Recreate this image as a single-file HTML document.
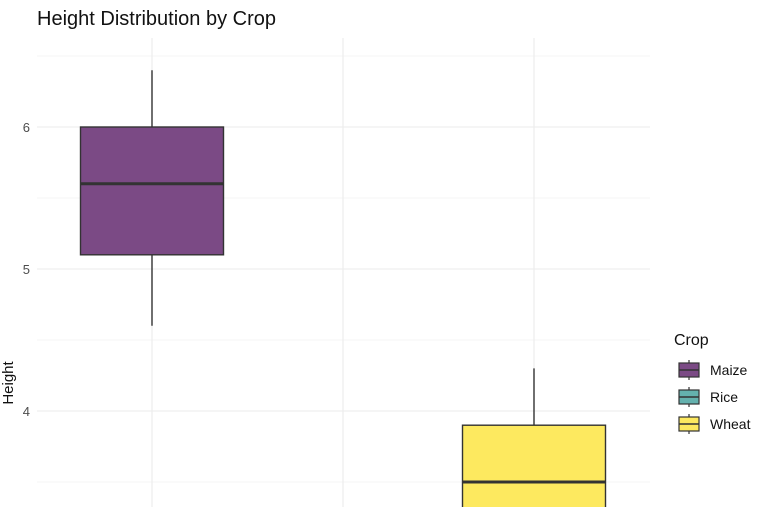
<!DOCTYPE html>
<html><head><meta charset="utf-8"><style>
html,body{margin:0;background:#fff;overflow:hidden;width:780px;height:507px;}
svg{display:block;font-family:"Liberation Sans",sans-serif;}
</style></head><body>
<svg id="chart" width="780" height="507">
<text x="37" y="25" font-size="20" fill="#111">Height Distribution by Crop</text>
<g id="grid"></g>
<g id="boxes"></g>
<text transform="translate(13,383) rotate(-90)" text-anchor="middle" font-size="15" fill="#111">Height</text>
<g id="legend"></g>
</svg>
<script>
const categories=["Maize","Rice","Wheat"];
const lowWhisker=[4.6,2.3,2.6];
const q1=[5.1,2.6,3.0];
const median=[5.6,2.9,3.5];
const q3=[6.0,3.1,3.9];
const highWhisker=[6.4,3.3,4.3];
const yTicks=[4,5,6];
const colors=["#7b4a85","#64b1ae","#fde95f"];
const NS="http://www.w3.org/2000/svg";
const plotL=37,plotR=650,plotT=38,plotB=507;
function y(v){return 127+(6-v)*142;}
function cy(v){return Math.max(plotT,Math.min(plotB,y(v)));}
function x(i){return 152+i*191;}
function mk(tag,attrs,parent){const e=document.createElementNS(NS,tag);for(const k in attrs)e.setAttribute(k,attrs[k]);parent.appendChild(e);return e;}
const grid=document.getElementById('grid');
for(let v=3;v<=6.5;v+=0.5){
 const yy=y(v); if(yy<plotT||yy>plotB)continue;
 const l=mk('line',{x1:plotL,x2:plotR,y1:yy,y2:yy,stroke:'#ebebeb','stroke-width':Number.isInteger(v)?1.1:0.6},grid);
 
 
}
categories.forEach((c,i)=>{
 const l=mk('line',{x1:x(i),x2:x(i),y1:plotT,y2:plotB,stroke:'#ebebeb','stroke-width':1.1},grid);
 
 
});
yTicks.forEach(t=>{
 const tx=mk('text',{x:30,y:y(t)+5,'text-anchor':'end','font-size':13,fill:'#4d4d4d'},grid);
 tx.textContent=t;
 
 
});
const boxes=document.getElementById('boxes');
categories.forEach((c,i)=>{
 const g=mk('g',{},boxes);
 
 
 if(y(highWhisker[i])<plotB) mk('line',{x1:x(i),x2:x(i),y1:cy(highWhisker[i]),y2:cy(lowWhisker[i]),stroke:'#333','stroke-width':1.4},g);
 const pad=y(q1[i])>plotB?2:0;
 if(y(q3[i])<plotB) mk('rect',{x:x(i)-71.5,y:cy(q3[i]),width:143,height:cy(q1[i])-cy(q3[i])+pad,fill:colors[i],stroke:'#333','stroke-width':1.4},g);
 if(y(median[i])<plotB) mk('line',{x1:x(i)-71.5,x2:x(i)+71.5,y1:y(median[i]),y2:y(median[i]),stroke:'#333','stroke-width':3},g);
});
const lg=document.getElementById('legend');
const lt=mk('text',{x:674,y:345,'font-size':16,fill:'#111'},lg);
lt.textContent='Crop';


categories.forEach((c,i)=>{
 const yy=370+i*27;
 const g=mk('g',{},lg);
 
 
 mk('line',{x1:689,x2:689,y1:yy-10,y2:yy+10,stroke:'#333','stroke-width':1.2},g);
 mk('rect',{x:679,y:yy-7,width:20,height:14,fill:colors[i],stroke:'#333','stroke-width':1.2},g);
 mk('line',{x1:679,x2:699,y1:yy,y2:yy,stroke:'#333','stroke-width':1.5},g);
 const t=mk('text',{x:710,y:yy+5,'font-size':14,fill:'#111'},g);
 t.textContent=c;
});
</script>
</body></html>
